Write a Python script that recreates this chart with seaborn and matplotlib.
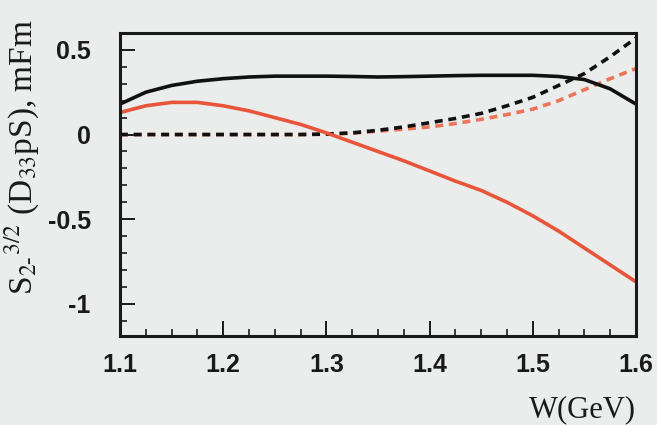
import pandas as pd
import matplotlib
matplotlib.use('Agg')
import matplotlib.pyplot as plt
import seaborn as sns
from matplotlib.ticker import MultipleLocator

# Energy grid (GeV)
w = [1.1, 1.125, 1.15, 1.175, 1.2, 1.225, 1.25, 1.275, 1.3, 1.325, 1.35,
     1.375, 1.4, 1.425, 1.45, 1.475, 1.5, 1.525, 1.55, 1.575, 1.6]

# Curves
black_solid = [0.18, 0.25, 0.29, 0.315, 0.33, 0.34, 0.345, 0.345, 0.345, 0.343, 0.34,
               0.342, 0.345, 0.348, 0.35, 0.35, 0.35, 0.343, 0.325, 0.27, 0.18]
red_solid = [0.13, 0.17, 0.19, 0.19, 0.17, 0.14, 0.10, 0.06, 0.01, -0.045, -0.10,
             -0.155, -0.215, -0.275, -0.33, -0.40, -0.48, -0.57, -0.67, -0.77, -0.87]
black_dash = [0.0, 0.0, 0.0, 0.0, 0.0, 0.0, 0.0, 0.0, 0.003, 0.01, 0.025,
              0.045, 0.07, 0.095, 0.125, 0.17, 0.22, 0.29, 0.36, 0.46, 0.57]
red_dash = [0.0, 0.0, 0.0, 0.0, 0.0, 0.0, 0.0, 0.0, 0.002, 0.008, 0.02,
            0.032, 0.045, 0.065, 0.09, 0.118, 0.15, 0.2, 0.265, 0.33, 0.39]

x_ticks = [1.1, 1.2, 1.3, 1.4, 1.5, 1.6]
y_ticks = [-1, -0.5, 0, 0.5]
y_tick_labels = ['-1', '-0.5', '0', '0.5']

df = pd.DataFrame({
    'W': w * 4,
    'S': black_solid + red_solid + black_dash + red_dash,
    'curve': ['black_solid'] * len(w) + ['red_solid'] * len(w)
             + ['black_dash'] * len(w) + ['red_dash'] * len(w),
})

sns.set_theme(style='ticks')
plt.rcParams['mathtext.fontset'] = 'stix'
bg = '#ebedec'
red = '#e8553a'

fig = plt.figure(figsize=(6.57, 4.25), dpi=100, facecolor=bg)
ax = fig.add_axes([0.1826, 0.2094, 0.7854, 0.713], facecolor=bg)

# dashed curves first, solid on top
styles = {
    'red_dash': dict(color='#ec7458', ls=(0, (2.2, 1.6))),
    'black_dash': dict(color='#111111', ls=(0, (2.2, 1.6))),
    'red_solid': dict(color=red, ls='-'),
    'black_solid': dict(color='#111111', ls='-'),
}
for name, st in styles.items():
    sub = df[df['curve'] == name]
    sns.lineplot(data=sub, x='W', y='S', ax=ax, color=st['color'],
                 linestyle=st['ls'], linewidth=2.6, legend=False)

ax.set_xlim(1.1, 1.6)
ax.set_ylim(-1.19, 0.6)
ax.set_xticks(x_ticks)
ax.set_xticklabels([f'{v:g}' for v in x_ticks])
ax.set_yticks(y_ticks)
ax.set_yticklabels(y_tick_labels)
ax.xaxis.set_minor_locator(MultipleLocator(0.025))
ax.yaxis.set_minor_locator(MultipleLocator(0.1))
ax.tick_params(which='major', direction='in', length=11, width=1.4,
               labelsize=18, colors='#1a1a1a')
ax.tick_params(which='minor', direction='in', length=5, width=1.2,
               colors='#1a1a1a')
ax.tick_params(axis='x', which='major', pad=12)
ax.tick_params(axis='y', which='major', pad=21)
for lab in ax.get_xticklabels() + ax.get_yticklabels():
    lab.set_fontweight('bold')
    lab.set_family('Liberation Sans')

for sp in ax.spines.values():
    sp.set_visible(True)
    sp.set_linewidth(2.2)
    sp.set_color('#1a1a1a')

ax.set_xlabel('W(GeV)', fontsize=22, family='Liberation Serif', loc='right',
              labelpad=13, color='#1a1a1a')
ax.set_ylabel(r'S$_{2\text{-}}$$^{3/2}$ (D$_{33}$pS), mFm', fontsize=24,
              family='Liberation Serif', color='#1a1a1a')
ax.yaxis.set_label_coords(-0.152, 0.59)

fig.savefig('out.png', dpi=100, facecolor=bg)
